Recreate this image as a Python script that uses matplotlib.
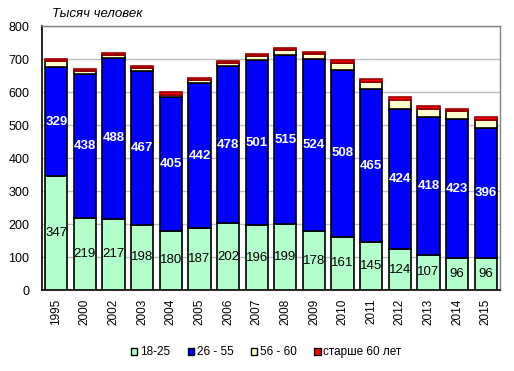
import numpy as np
import matplotlib
matplotlib.use('Agg')
import matplotlib.pyplot as plt
from matplotlib.patches import Patch

plt.rcParams['font.family'] = ['Liberation Sans', 'DejaVu Sans']

years = ['1995', '2000', '2002', '2003', '2004', '2005', '2006', '2007',
         '2008', '2009', '2010', '2011', '2012', '2013', '2014', '2015']
age_18_25 = [347, 219, 217, 198, 180, 187, 202, 196, 199, 178, 161, 145, 124, 107, 96, 96]
age_26_55 = [329, 438, 488, 467, 405, 442, 478, 501, 515, 524, 508, 465, 424, 418, 423, 396]
age_56_60 = [18, 7, 7, 9, 8, 9, 10, 12, 15, 15, 21, 22, 29, 25, 23, 24]
age_60_plus = [7, 7, 7, 6, 7, 6, 6, 6, 7, 7, 7, 10, 10, 9, 8, 10]
series_names = ['18-25', '26 - 55', '56 - 60', 'старше 60 лет']

c_green = '#B3FFCC'
c_blue = '#0000FF'
c_cream = '#FFFFCC'
c_red = '#FF0000'

fig = plt.figure(figsize=(5.14, 3.71), dpi=100)
fig.set_facecolor('white')
ax = fig.add_axes([0.0817, 0.2183, 0.8911, 0.7103])

idx = np.arange(len(years))
w = 0.78
g = np.array(age_18_25)
b = np.array(age_26_55)
c = np.array(age_56_60)
r = np.array(age_60_plus)

ax.bar(idx, g, w, color=c_green, edgecolor='black', linewidth=1.2, zorder=3)
ax.bar(idx, b, w, bottom=g, color=c_blue, edgecolor='black', linewidth=1.2, zorder=3)
ax.bar(idx, c, w, bottom=g + b, color=c_cream, edgecolor='black', linewidth=1.2, zorder=3)
ax.bar(idx, r, w, bottom=g + b + c, color=c_red, edgecolor='#990000', linewidth=1.2, zorder=3)

for i in idx:
    ax.text(i, g[i] / 2, str(g[i]), ha='center', va='center', fontsize=9.5,
            color='black', zorder=5)
    ax.text(i, g[i] + b[i] / 2, str(b[i]), ha='center', va='center', fontsize=9.5,
            color='white', fontweight='bold', zorder=5)

ax.set_xlim(-0.5, len(years) - 0.5)
ax.set_ylim(0, 800)
ax.set_yticks(np.arange(0, 801, 100))
ax.set_xticks(idx)
ax.set_xticklabels(years, rotation=90, fontsize=8.5)
ax.tick_params(axis='y', length=0, pad=9, labelsize=9)
ax.tick_params(axis='x', length=0, pad=6)
ax.yaxis.grid(True, color='#C0C0C0', linewidth=1, zorder=0)
ax.set_axisbelow(True)

for s in ['left', 'bottom']:
    ax.spines[s].set_color('black')
    ax.spines[s].set_linewidth(1.2)
for s in ['top', 'right']:
    ax.spines[s].set_color('#808080')
    ax.spines[s].set_linewidth(1)

fig.text(0.101, 0.962, 'Тысяч человек', fontsize=9.5, style='italic', va='center')

handles = [Patch(facecolor=c_green, edgecolor='black'),
           Patch(facecolor=c_blue, edgecolor='black'),
           Patch(facecolor=c_cream, edgecolor='black'),
           Patch(facecolor=c_red, edgecolor='black')]
fig.legend(handles, series_names, loc='center', bbox_to_anchor=(0.518, 0.05),
           ncol=4, frameon=False, fontsize=8.5, handlelength=0.55, handleheight=0.55,
           handletextpad=0.2, columnspacing=1.5)

plt.savefig('out.png', dpi=100)
